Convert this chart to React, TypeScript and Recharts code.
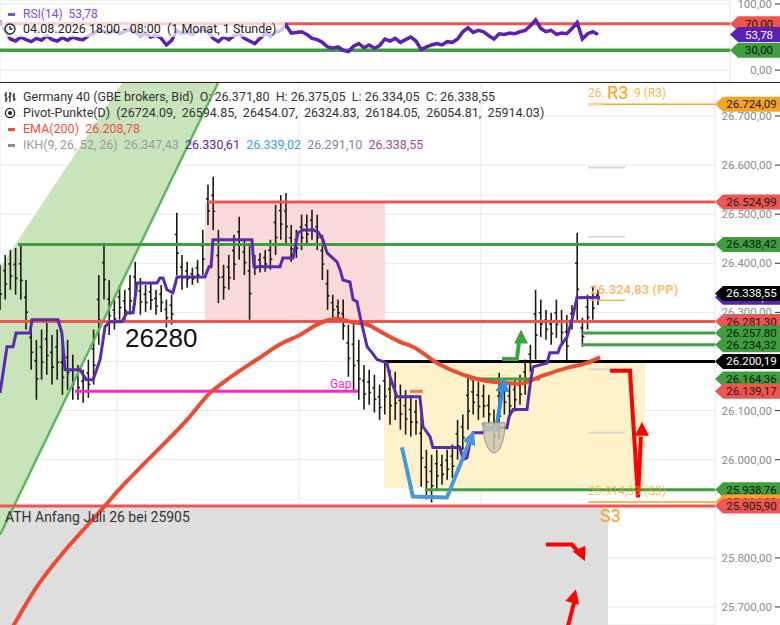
import React from 'react';
import {
  ComposedChart,
  Line,
  Bar,
  Area,
  Scatter,
  XAxis,
  YAxis,
  CartesianGrid,
  ReferenceLine,
  ReferenceArea,
  ReferenceDot,
} from 'recharts';

const FONT = 'Roboto, "Noto Sans", Arial, sans-serif';
const W = 780;
const RSI_H = 82;
const MAIN_H = 543;

const RED = '#ee5550';
const GREEN = '#3da03d';
const ORANGE = '#f5a325';
const PURPLE = '#5b21b6';

// time axis in days of the month, hourly bars compressed to one bar per 0.2 day
const dayTicks = [10, 17, 24];
const barStart = 5.5;
const barStep = 0.2;

const barHigh = [
  26397, 26417, 26427, 26431, 26438, 26366, 26285, 26244, 26265, 26285,
  26254, 26265, 26234, 26244, 26214, 26193, 26183, 26204, 26265, 26376,
  26442, 26366, 26326, 26356, 26346, 26376, 26403, 26370, 26356, 26362,
  26346, 26356, 26326, 26336, 26503, 26417, 26403, 26391, 26407, 26468,
  26560, 26576, 26468, 26397, 26417, 26458, 26495, 26448, 26438, 26417,
  26421, 26427, 26448, 26519, 26539, 26543, 26478, 26468, 26499, 26499,
  26509, 26499, 26458, 26387, 26336, 26326, 26326, 26275, 26285, 26244,
  26193, 26183, 26173, 26153, 26197, 26183, 26179, 26153, 26142, 26132,
  26122, 26112, 26020, 26010, 26020, 26010, 26020, 26031, 26081, 26092,
  26169, 26163, 26159, 26153, 26132, 26102, 26177, 26163, 26153, 26167,
  26173, 26204, 26234, 26346, 26326, 26305, 26299, 26326, 26305, 26295,
  26315, 26462, 26289, 26336, 26352, 26346,
];
const barLow = [
  26305, 26326, 26346, 26336, 26326, 26265, 26183, 26122, 26163, 26173,
  26153, 26163, 26132, 26142, 26122, 26122, 26116, 26126, 26153, 26234,
  26326, 26254, 26265, 26285, 26281, 26295, 26315, 26295, 26301, 26305,
  26295, 26301, 26269, 26275, 26376, 26346, 26350, 26356, 26360, 26376,
  26478, 26468, 26319, 26326, 26346, 26366, 26407, 26376, 26285, 26376,
  26381, 26383, 26387, 26417, 26448, 26438, 26403, 26411, 26427, 26438,
  26448, 26427, 26366, 26305, 26289, 26285, 26244, 26169, 26142, 26122,
  26102, 26112, 26096, 26081, 26092, 26071, 26081, 26061, 26051, 26047,
  26051, 25945, 25919, 25913, 25939, 25949, 25959, 25963, 26000, 26020,
  26061, 26092, 26081, 26086, 26071, 26020, 26041, 26092, 26086, 26098,
  26112, 26132, 26179, 26204, 26250, 26244, 26234, 26248, 26234, 26197,
  26265, 26285, 26230, 26265, 26285, 26315,
];
const rsi14 = [
  71, 60, 47, 44, 50, 46, 43, 48, 45, 52,
  46, 44, 49, 45, 50, 47, 46, 52, 55, 62,
  58, 56, 60, 55, 58, 62, 57, 52, 55, 50,
  53, 48, 38, 45, 60, 55, 57, 54, 58, 62,
  58, 48, 43, 50, 46, 52, 55, 48, 44, 40,
  48, 55, 52, 57, 60, 68, 56, 57, 58, 54,
  48, 46, 42, 35, 33, 35, 30, 28, 36, 40,
  34, 38, 33, 37, 47, 44, 48, 42, 46, 50,
  44, 31, 35, 38, 40, 38, 43, 42, 47, 58,
  64, 57, 60, 58, 52, 47, 55, 54, 56, 55,
  58, 60, 67, 76, 63, 58, 60, 54, 56, 55,
  63, 72, 47, 55, 58, 53.78,
];

// IKH tenkan line (step line)
const ikhDays = [
  5.5, 5.77, 6.0, 6.12, 6.65, 6.73, 7.73, 7.88, 8.0, 8.58,
  8.81, 9.08, 9.35, 9.54, 9.73, 10.19, 10.38, 10.62, 10.77, 11.54,
  11.65, 11.77, 11.92, 12.15, 12.31, 13.38, 13.54, 13.62, 13.69, 15.19,
  15.27, 16.27, 16.38, 16.77, 16.96, 17.15, 17.54, 17.73, 17.92, 18.08,
  18.46, 18.58, 18.69, 18.96, 19.08, 19.23, 19.35, 19.62, 19.81, 20.0,
  20.38, 20.5, 20.77, 21.65, 21.77, 22.04, 22.15, 23.19, 23.31, 23.46,
  23.58, 23.69, 24.08, 24.23, 25.0, 25.08, 25.23, 25.77, 25.88, 26.0,
  26.54, 26.65, 26.96, 27.04, 27.31, 27.5, 27.69, 28.58,
];
const ikhTenkan = [
  26136, 26230, 26230, 26258, 26258, 26285, 26285, 26258, 26183, 26183,
  26163, 26163, 26204, 26271, 26281, 26281, 26299, 26299, 26360, 26360,
  26370, 26370, 26346, 26340, 26372, 26372, 26393, 26393, 26448, 26448,
  26393, 26393, 26411, 26411, 26462, 26468, 26468, 26464, 26448, 26421,
  26403, 26387, 26366, 26362, 26326, 26322, 26291, 26230, 26218, 26204,
  26197, 26169, 26128, 26128, 26067, 26047, 26025, 26025, 26000, 26004,
  26035, 26055, 26055, 26065, 26065, 26088, 26102, 26102, 26149, 26189,
  26197, 26218, 26218, 26230, 26250, 26285, 26330, 26330.61,
];

const emaDays = [
  5.5, 6.08, 6.85, 7.81, 8.96, 9.5, 10.08, 11.27, 12.69, 13.58,
  14.08, 15.38, 16.38, 17.04, 17.69, 18.19, 18.46, 18.96, 19.62, 20.23,
  20.88, 21.38, 22.31, 23.31, 24.35, 25.5, 26.27, 27.31, 28.08, 28.58,
];
const ema200 = [
  25613, 25668, 25736, 25803, 25872, 25904, 25939, 26004, 26081, 26136,
  26157, 26204, 26238, 26254, 26275, 26285, 26287, 26281, 26275, 26258,
  26240, 26230, 26197, 26173, 26159, 26155, 26169, 26187, 26197, 26208.78,
];

// rising channel (left edge / right edge)
const channelDays = [5.5, 13.885];
const channelLow = [25847, 26767];
const channelHigh = [26391, 27063];

// pivot points (D)
const R3 = 26724.09, R2 = 26594.85, R1 = 26454.07, PP = 26324.83, S1 = 26184.05, S2 = 26054.81, S3 = 25914.03;

// drawn levels
const resistTop = 26524.99;
const greenTop = 26438.42;
const lastPrice = 26338.55;
const tenkanLast = 26330.61;
const level26281 = 26281.3;
const level26257 = 26257.8;
const level26234 = 26234.32;
const blackLevel = 26200.19;
const level26164 = 26164.36;
const gapLevel = 26139.17;
const level25938 = 25938.76;
const athLevel = 25905.9;
const boxBottom = 25943;
const priceBottom = 25663.3;
const priceTop = 26769.2;

const priceTicks = [25700, 25800, 25900, 26000, 26100, 26200, 26300, 26400, 26500, 26600, 26700];
const hiddenTicks = [25900, 26200];

// hand-drawn arrows: [day, price]
const blueArrow1 = [[20.96, 26025], [21.38, 25925], [22.69, 25923], [23.54, 26035]];
const blueHead1 = [23.73, 26059];
const blueArrow2 = [[24.08, 26075], [24.27, 26061], [24.58, 26061], [24.81, 26138]];
const blueHead2 = [24.87, 26167];
const greenArrow = [[24.81, 26205], [25.38, 26205], [25.46, 26238]];
const greenHead = [25.54, 26265];
const redArrow1 = [[28.96, 26181], [29.73, 26181], [30.04, 25923], [30.15, 26047]];
const redHead1 = [30.19, 26077];
const redArrow2 = [[26.5, 25827], [27.5, 25827], [27.73, 25813]];
const redHead2 = [28.0, 25793];
const redArrow3 = [[27.31, 25654], [27.58, 25709]];
const redHead3 = [27.65, 25736];
const cupPoint = [24.5, 26075];

const fmt = (v: number) => {
  const [i, f] = v.toFixed(2).split('.');
  return i.replace(/\B(?=(\d{3})+(?!\d))/g, '.') + ',' + f;
};

const pts = (arr: number[][]) => arr.map(([x, y]) => ({ x, y }));

const arrowHead = (color: string, dx: number, dy: number) => (p: any) => {
  const len = Math.hypot(dx, dy);
  const ux = dx / len, uy = dy / len;
  const L = 14, H = 7;
  const bx = p.cx - ux * L, by = p.cy - uy * L;
  const poly = [
    [p.cx, p.cy],
    [bx - uy * H, by + ux * H],
    [bx + uy * H, by - ux * H],
  ];
  return <polygon points={poly.map((q) => q.join(',')).join(' ')} fill={color} />;
};

const cupShape = (p: any) => (
  <path
    d={`M${p.cx - 11},${p.cy} A11,30 0 0 0 ${p.cx + 11},${p.cy} Z`}
    fill="#cdc5b2"
    fillOpacity={0.85}
    stroke="#9a9486"
    strokeWidth={1}
  />
);

const vbPoint = (vb: any) => ({
  x: vb.cx ?? vb.x + (vb.width || 0) / 2,
  y: vb.cy ?? vb.y + (vb.height || 0) / 2,
});

const txt = (text: string, style: any) => (props: any) => {
  const { x, y } = vbPoint(props.viewBox);
  return (
    <text x={x} y={y} fontFamily={FONT} style={{ whiteSpace: 'pre' }} {...style}>
      {text}
    </text>
  );
};

const bigR3 = (props: any) => {
  const { x, y } = vbPoint(props.viewBox);
  return (
    <g>
      <rect x={x - 3} y={y - 15} width={30} height={18} fill="#fff" fillOpacity={0.75} />
      <text x={x} y={y} fontFamily={FONT} fontSize={18} fill={ORANGE}>
        R3
      </text>
    </g>
  );
};

const badge = (text: string, bg: string, fg: string, bodyX: number) => (props: any) => {
  const { x, y } = vbPoint(props.viewBox);
  const h = 7.5;
  return (
    <g>
      <polygon
        points={`${x},${y} ${bodyX},${y - h} ${W},${y - h} ${W},${y + h} ${bodyX},${y + h}`}
        fill={bg}
      />
      <text
        x={(bodyX + W) / 2}
        y={y + 4}
        textAnchor="middle"
        fontSize={11.5}
        fill={fg}
        fontFamily={FONT}
      >
        {text}
      </text>
    </g>
  );
};

const PriceTick = (p: any) => {
  const v = p.payload.value;
  if (hiddenTicks.includes(v)) return <g />;
  return (
    <g>
      <text x={772} y={p.y + 4} textAnchor="end" fontSize={11.5} fill="#8c8c8c" fontFamily={FONT}>
        {fmt(v)}
      </text>
      <line x1={775} x2={780} y1={p.y} y2={p.y} stroke="#333" />
    </g>
  );
};

const RsiTick = (p: any) => (
  <g>
    <text x={772} y={p.y + 4} textAnchor="end" fontSize={11.5} fill="#8c8c8c" fontFamily={FONT}>
      {fmt(p.payload.value)}
    </text>
    <line x1={775} x2={780} y1={p.y} y2={p.y} stroke="#333" />
  </g>
);

const DayTick = (p: any) => (
  <g>
    <text x={p.x} y={MAIN_H - 5} textAnchor="middle" fontSize={11.5} fill="#777" fontFamily={FONT}>
      {p.payload.value}
    </text>
    <line x1={p.x} x2={p.x} y1={MAIN_H - 3} y2={MAIN_H} stroke="#333" />
  </g>
);

const seg = (x1: number, x2: number, y: number) => [
  { x: x1, y },
  { x: x2, y },
];

function RsiPanel() {
  const data = rsi14.map((v, i) => ({ x: barStart + i * barStep, rsi: v }));
  const xMax = 5.5 + 730 / 26;
  return (
    <ComposedChart width={W} height={RSI_H} data={data} margin={{ top: 0, right: 0, bottom: 0, left: 0 }}>
      <CartesianGrid stroke="#e8e8e8" />
      <XAxis
        dataKey="x"
        type="number"
        domain={[5.5, xMax]}
        allowDataOverflow
        ticks={dayTicks}
        height={0}
        axisLine={false}
        tickLine={false}
        tick={false}
      />
      <YAxis
        orientation="right"
        type="number"
        domain={[-18, 106]}
        allowDataOverflow
        ticks={[0, 100]}
        width={50}
        axisLine={false}
        tickLine={false}
        tick={RsiTick}
        interval={0}
      />
      <ReferenceLine y={70} stroke={RED} strokeWidth={3} />
      <ReferenceLine y={30} stroke={GREEN} strokeWidth={3.5} />
      <Line type="linear" dataKey="rsi" stroke={PURPLE} strokeWidth={3.5} dot={false} isAnimationActive={false} />
      <ReferenceDot x={xMax} y={70} r={0} fill="none" stroke="none" ifOverflow="visible" label={badge('70,00', RED, '#111', 738)} />
      <ReferenceDot x={xMax} y={53.78} r={0} fill="none" stroke="none" ifOverflow="visible" label={badge('53,78', PURPLE, '#fff', 738)} />
      <ReferenceDot x={xMax} y={30} r={0} fill="none" stroke="none" ifOverflow="visible" label={badge('30,00', GREEN, '#111', 738)} />
    </ComposedChart>
  );
}

function MainPanel() {
  const bars = barHigh.map((h, i) => ({ x: barStart + i * barStep, range: [barLow[i], h] }));
  const ikh = ikhDays.map((d, i) => ({ x: d, y: ikhTenkan[i] }));
  const ema = emaDays.map((d, i) => ({ x: d, y: ema200[i] }));
  const channel = channelDays.map((d, i) => ({ x: d, band: [channelLow[i], channelHigh[i]] }));
  const channelEdge = channelDays.map((d, i) => ({ x: d, y: channelLow[i] }));
  const xMax = 33;
  const mainBadges: [number, string, string][] = [
    [R3, ORANGE, '#1a1a1a'],
    [resistTop, RED, '#1a1a1a'],
    [greenTop, GREEN, '#111'],
    [tenkanLast, PURPLE, '#fff'],
    [lastPrice, '#000', '#fff'],
    [level26281, RED, '#1a1a1a'],
    [level26257, GREEN, '#111'],
    [level26234, GREEN, '#111'],
    [blackLevel, '#000', '#fff'],
    [level26164, GREEN, '#111'],
    [gapLevel, RED, '#1a1a1a'],
    [level25938, GREEN, '#111'],
    [S3, ORANGE, '#1a1a1a'],
    [athLevel, RED, '#1a1a1a'],
  ];
  return (
    <ComposedChart width={W} height={MAIN_H} data={bars} margin={{ top: 0, right: 0, bottom: 0, left: 0 }}>
      <CartesianGrid stroke="#e8e8e8" />
      <XAxis
        dataKey="x"
        type="number"
        domain={[5.5, xMax]}
        allowDataOverflow
        ticks={dayTicks}
        height={0}
        axisLine={false}
        tickLine={false}
        tick={DayTick}
        interval={0}
      />
      <YAxis
        orientation="right"
        type="number"
        domain={[priceBottom, priceTop]}
        allowDataOverflow
        ticks={priceTicks}
        width={65}
        axisLine={false}
        tickLine={false}
        tick={PriceTick}
        interval={0}
      />
      <ReferenceArea x1={5.5} x2={28.88} y1={priceBottom} y2={athLevel} fill="#dedede" fillOpacity={1} stroke="none" ifOverflow="hidden" />
      <ReferenceArea x1={13.38} x2={20.31} y1={level26281} y2={resistTop} fill="#f9d9d9" fillOpacity={1} stroke="none" />
      <ReferenceArea x1={20.27} x2={30.31} y1={boxBottom} y2={blackLevel} fill="#fdf2c9" fillOpacity={1} stroke="none" />
      <Area data={channel} dataKey="band" type="linear" fill="#c9e3bb" fillOpacity={1} stroke="none" isAnimationActive={false} />
      <Line data={channelEdge} dataKey="y" type="linear" stroke="#5cb85c" strokeWidth={2.5} dot={false} isAnimationActive={false} />

      <Bar
        dataKey="range"
        barSize={2}
        isAnimationActive={false}
        shape={(p: any) => {
          const cx = p.x + p.width / 2;
          const y1 = Math.min(p.y, p.y + p.height);
          const y2 = Math.max(p.y, p.y + p.height);
          return (
            <g stroke="#1b1b12" strokeWidth={1.6}>
              <line x1={cx} x2={cx} y1={y1} y2={y2} />
              <line x1={cx - 2} x2={cx} y1={y1 + (y2 - y1) * 0.35} y2={y1 + (y2 - y1) * 0.35} />
              <line x1={cx} x2={cx + 2} y1={y1 + (y2 - y1) * 0.65} y2={y1 + (y2 - y1) * 0.65} />
            </g>
          );
        }}
      />

      {/* pivot markers */}
      <ReferenceLine segment={seg(28.12, xMax, R3)} stroke={ORANGE} strokeWidth={1.5} ifOverflow="visible" />
      <ReferenceLine segment={seg(28.12, 28.7, R3)} stroke="#fbd29a" strokeWidth={3} />
      <ReferenceLine segment={seg(28.12, 29.54, R2)} stroke="#d9d9d9" strokeWidth={2} />
      <ReferenceLine segment={seg(28.12, 29.54, R1)} stroke="#d9d9d9" strokeWidth={2} />
      <ReferenceLine segment={seg(28.19, 29.54, PP)} stroke="#f7b45a" strokeWidth={1.5} />
      <ReferenceLine segment={seg(28.12, 29.54, S1)} stroke="#d9d9d9" strokeWidth={2} />
      <ReferenceLine segment={seg(28.12, 29.54, S2)} stroke="#d9d9d9" strokeWidth={2} />
      <ReferenceLine segment={seg(28.12, xMax, S3)} stroke={ORANGE} strokeWidth={1.5} />

      {/* drawn levels */}
      <ReferenceLine segment={seg(13.5, xMax, resistTop)} stroke={RED} strokeWidth={3} />
      <ReferenceLine segment={seg(6.19, xMax, greenTop)} stroke={GREEN} strokeWidth={3} />
      <ReferenceLine y={level26281} stroke={RED} strokeWidth={3} />
      <ReferenceLine segment={seg(27.88, xMax, level26257)} stroke={GREEN} strokeWidth={3} />
      <ReferenceLine segment={seg(27.88, xMax, level26234)} stroke={GREEN} strokeWidth={3} />
      <ReferenceLine segment={seg(20.23, xMax, blackLevel)} stroke="#000" strokeWidth={3} />
      <ReferenceLine segment={seg(23.58, 26.27, level26164)} stroke={GREEN} strokeWidth={3} />
      <ReferenceLine segment={seg(8.38, 19.27, gapLevel)} stroke="#ff22d4" strokeWidth={3} />
      <ReferenceLine segment={seg(21.27, 21.77, gapLevel)} stroke="#f07a4a" strokeWidth={3} />
      <ReferenceLine segment={seg(21.85, xMax, level25938)} stroke={GREEN} strokeWidth={3} />
      <ReferenceLine y={athLevel} stroke={RED} strokeWidth={3} />

      <Line data={ema} dataKey="y" type="monotone" stroke="#ee4c32" strokeWidth={4} dot={false} isAnimationActive={false} />
      <Line data={ikh} dataKey="y" type="linear" stroke="#5a2ab0" strokeWidth={3} dot={false} isAnimationActive={false} />

      {/* arrows */}
      <Scatter data={pts([cupPoint])} dataKey="y" shape={cupShape} isAnimationActive={false} />
      <Line data={pts(blueArrow1)} dataKey="y" type="linear" stroke="#4a98d8" strokeWidth={4} dot={false} isAnimationActive={false} />
      <Scatter data={pts([blueHead1])} dataKey="y" shape={arrowHead('#4a98d8', 26, -65)} isAnimationActive={false} />
      <Line data={pts(blueArrow2)} dataKey="y" type="linear" stroke="#2f8fe8" strokeWidth={4} dot={false} isAnimationActive={false} />
      <Scatter data={pts([blueHead2])} dataKey="y" shape={arrowHead('#2f8fe8', 3, -40)} isAnimationActive={false} />
      <Line data={pts(greenArrow)} dataKey="y" type="linear" stroke="#3ea53e" strokeWidth={4} dot={false} isAnimationActive={false} />
      <Scatter data={pts([greenHead])} dataKey="y" shape={arrowHead('#3ea53e', 0, -1)} isAnimationActive={false} />
      <Line data={pts(redArrow1)} dataKey="y" type="linear" stroke="#ff0000" strokeWidth={4} dot={false} isAnimationActive={false} />
      <Scatter data={pts([redHead1])} dataKey="y" shape={arrowHead('#ff0000', 0, -1)} isAnimationActive={false} />
      <Line data={pts(redArrow2)} dataKey="y" type="linear" stroke="#ff0000" strokeWidth={4} dot={false} isAnimationActive={false} />
      <Scatter data={pts([redHead2])} dataKey="y" shape={arrowHead('#ff0000', 7, 15)} isAnimationActive={false} />
      <Line data={pts(redArrow3)} dataKey="y" type="linear" stroke="#ff0000" strokeWidth={4} dot={false} isAnimationActive={false} />
      <Scatter data={pts([redHead3])} dataKey="y" shape={arrowHead('#ff0000', 8, -30)} isAnimationActive={false} />

      {/* texts */}
      <ReferenceDot x={10.31} y={26230} r={0} fill="none" stroke="none" ifOverflow="visible"
        label={txt('26280', { fontSize: 26, fill: '#111', fontFamily: '"Liberation Sans", Arial, sans-serif' })} />
      <ReferenceDot x={18.19} y={26147} r={0} fill="none" stroke="none" ifOverflow="visible"
        label={txt('Gap', { fontSize: 12, fill: '#ff22d4' })} />
      <ReferenceDot x={5.69} y={25874} r={0} fill="none" stroke="none" ifOverflow="visible"
        label={txt('ATH Anfang Juli 26 bei 25905', { fontSize: 14, fill: '#333' })} />
      <ReferenceDot x={28.58} y={25874} r={0} fill="none" stroke="none" ifOverflow="visible"
        label={txt('S3', { fontSize: 18, fill: ORANGE })} />
      <ReferenceDot x={28.12} y={25929} r={0} fill="none" stroke="none" ifOverflow="visible"
        label={txt(`${fmt(S3)} (S3)`, { fontSize: 12, fill: ORANGE, fillOpacity: 0.7 })} />
      <ReferenceDot x={28.12} y={26739} r={0} fill="none" stroke="none" ifOverflow="visible"
        label={txt(`${fmt(R3)} (R3)`, { fontSize: 12, fill: ORANGE, fillOpacity: 0.8 })} />
      <ReferenceDot x={28.85} y={26735} r={0} fill="none" stroke="none" ifOverflow="visible" label={bigR3} />
      <ReferenceDot x={28.19} y={26338} r={0} fill="none" stroke="none" ifOverflow="visible"
        label={txt(`${fmt(PP)} (PP)`, { fontSize: 13, fontWeight: 700, fill: '#f7b15e', fillOpacity: 0.85 })} />

      {/* axis badges */}
      {mainBadges.map(([v, bg, fg]) => (
        <ReferenceDot key={v} x={xMax} y={v} r={0} fill="none" stroke="none" ifOverflow="visible"
          label={badge(fmt(v), bg, fg, 723)} />
      ))}
    </ComposedChart>
  );
}

const dash = (color: string, top: number) => (
  <div style={{ position: 'absolute', left: 8, top, width: 7, height: 3, background: color }} />
);

export default function App() {
  const rowStyle = (top: number): React.CSSProperties => ({
    position: 'absolute',
    left: 23,
    top,
    height: 16,
    lineHeight: '16px',
    fontSize: 12.5,
    whiteSpace: 'pre',
    color: '#333',
  });
  return (
    <div style={{ position: 'relative', width: W, height: 625, overflow: 'hidden', background: '#fff', fontFamily: FONT }}>
      <style>{'body{margin:0}'}</style>
      <div style={{ position: 'absolute', left: 0, top: 0 }}>
        <RsiPanel />
      </div>
      <div style={{ position: 'absolute', left: 0, top: RSI_H }}>
        <MainPanel />
      </div>
      <div style={{ position: 'absolute', left: 0, top: RSI_H, width: W, height: 1, background: '#222' }} />

      {/* RSI legend */}
      {dash('#7c4dd8', 13)}
      <div style={{ ...rowStyle(6), fontSize: 12, color: '#7c4dd8' }}>{'RSI(14)  53,78'}</div>
      <div style={{ position: 'absolute', left: 0, top: 21, width: 285, height: 16, background: 'rgba(255,255,255,0.72)' }} />
      <svg style={{ position: 'absolute', left: 4, top: 23 }} width={12} height={12}>
        <circle cx={6} cy={6} r={5} fill="none" stroke="#222" strokeWidth={1.3} />
        <path d="M6 3 V6 H8.5" fill="none" stroke="#222" strokeWidth={1.3} />
      </svg>
      <div style={{ ...rowStyle(21), fontSize: 12.5, color: '#222' }}>{'04.08.2026 18:00 - 08:00  (1 Monat, 1 Stunde)'}</div>

      {/* main legend */}
      <svg style={{ position: 'absolute', left: 4, top: 91 }} width={12} height={12}>
        <path d="M2 1 V11 M6 1 V11 M10 2 V10 M0.5 4 H2 M2 8 H3.5 M4.5 6 H6 M6 3 H7.5 M8.5 5 H10 M10 8 H11.5" stroke="#222" strokeWidth={1.3} />
      </svg>
      <div style={rowStyle(89)}>{'Germany 40 (GBE brokers, Bid)  O: 26.371,80  H: 26.375,05  L: 26.334,05  C: 26.338,55'}</div>
      <svg style={{ position: 'absolute', left: 4, top: 107 }} width={12} height={12}>
        <circle cx={6} cy={6} r={4.6} fill="none" stroke="#222" strokeWidth={1.3} />
        <circle cx={6} cy={6} r={2} fill="#222" />
      </svg>
      <div style={rowStyle(105)}>
        {'Pivot-Punkte(D)  (26724.09,  26594.85,  26454.07,  26324.83,  26184.05,  26054.81,  25914.03)'}
      </div>
      {dash('#ef4d3f', 128)}
      <div style={{ ...rowStyle(121), color: '#ef4d3f' }}>{'EMA(200)  26.208,78'}</div>
      {dash('#8a8a8a', 144)}
      <div style={{ ...rowStyle(137), color: '#9a9a9a' }}>
        {'IKH(9, 26, 52, 26)  26.347,43  '}
        <span style={{ color: '#5b21b6' }}>{'26.330,61  '}</span>
        <span style={{ color: '#38a5d8' }}>{'26.339,02  '}</span>
        <span style={{ color: '#8a80a8' }}>{'26.291,10  '}</span>
        <span style={{ color: '#9c4f98' }}>{'26.338,55'}</span>
      </div>
    </div>
  );
}
